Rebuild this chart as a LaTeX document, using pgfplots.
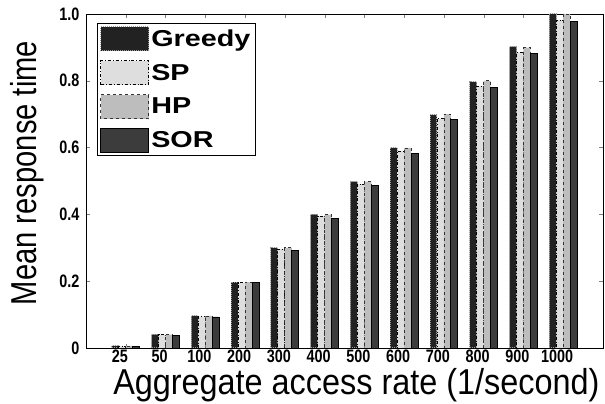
\documentclass[border=0pt]{standalone}
\usepackage{pgfplots}
\pgfplotsset{compat=1.18}
\usepackage{fontspec}
\setmainfont{Liberation Sans}
\newfontfamily\tickfont[FakeStretch=0.8]{Liberation Sans}
\newfontfamily\xlabfont[FakeStretch=0.9]{Liberation Sans}
\newfontfamily\ylabfont[FakeStretch=0.81]{Liberation Sans}
\newfontfamily\legfont[FakeStretch=1.25]{Liberation Sans}
\definecolor{cgreedy}{HTML}{222222}
\definecolor{cgreedyb}{HTML}{9A9A9A}
\definecolor{csp}{HTML}{DEDEDE}
\definecolor{chp}{HTML}{BDBDBD}
\definecolor{csor}{HTML}{3C3C3C}
\begin{document}
\begin{tikzpicture}
\useasboundingbox (-86pt,-56pt) rectangle (519pt,348pt);
\begin{axis}[
  scale only axis, width=517pt, height=334pt,
  xmin=0, xmax=13, ymin=0, ymax=1,
  ybar=0pt, bar width=0.175,
  xtick={1,2,3,4,5,6,7,8,9,10,11,12},
  xticklabels={25,50,100,200,300,400,500,600,700,800,900,1000},
  ytick={0,0.2,0.4,0.6,0.8,1.0},
  yticklabels={0,0.2,0.4,0.6,0.8,1.0},
  tick align=inside, major tick length=4pt,
  tick pos=both,
  /pgf/number format/assume math mode=true,
  tick label style={font=\tickfont\bfseries\fontsize{18}{18}\selectfont},
  xticklabel style={xshift=-6pt, yshift=2pt},
  yticklabel style={xshift=-3pt},
  axis line style={black, line width=0.8pt},
  xlabel={Aggregate access rate (1/second)},
  ylabel={Mean response time},
  xlabel style={font=\xlabfont\fontsize{36}{36}\selectfont, at={(axis description cs:0.523,-0.111)}, anchor=center},
  ylabel style={font=\ylabfont\fontsize{36}{36}\selectfont, at={(axis description cs:-0.114,0.524)}, anchor=center, rotate=0},
  legend cell align=left,
  legend style={at={(rel axis cs:0.021,0.973)}, anchor=north west,
    font=\legfont\bfseries\fontsize{23}{23}\selectfont,
    draw=black, line width=0.8pt, fill=white, row sep=9pt,
    inner xsep=3pt, inner ysep=3pt,
    /tikz/every even column/.append style={column sep=4pt}},
  legend image code/.code={\draw[#1] (0pt,-12pt) rectangle (48pt,12pt);},
]
\addplot[fill=cgreedy, draw=cgreedyb, densely dotted, line width=1pt] coordinates {
(1,0.006) (2,0.041) (3,0.096) (4,0.197) (5,0.300) (6,0.400) (7,0.498) (8,0.599) (9,0.698) (10,0.797) (11,0.902) (12,1.0)};
\addplot[fill=csp, draw=black, dash dot, line width=0.8pt] coordinates {
(1,0.005) (2,0.040) (3,0.094) (4,0.195) (5,0.296) (6,0.395) (7,0.491) (8,0.590) (9,0.687) (10,0.784) (11,0.885) (12,0.982)};
\addplot[fill=chp, draw=black!80, dashed, line width=0.8pt] coordinates {
(1,0.006) (2,0.040) (3,0.096) (4,0.197) (5,0.300) (6,0.399) (7,0.498) (8,0.599) (9,0.700) (10,0.800) (11,0.899) (12,1.0)};
\addplot[fill=csor, draw=black, line width=0.8pt] coordinates {
(1,0.005) (2,0.037) (3,0.093) (4,0.195) (5,0.293) (6,0.389) (7,0.486) (8,0.583) (9,0.683) (10,0.781) (11,0.882) (12,0.978)};
\legend{Greedy,SP,HP,SOR}
\end{axis}
\end{tikzpicture}
\end{document}
